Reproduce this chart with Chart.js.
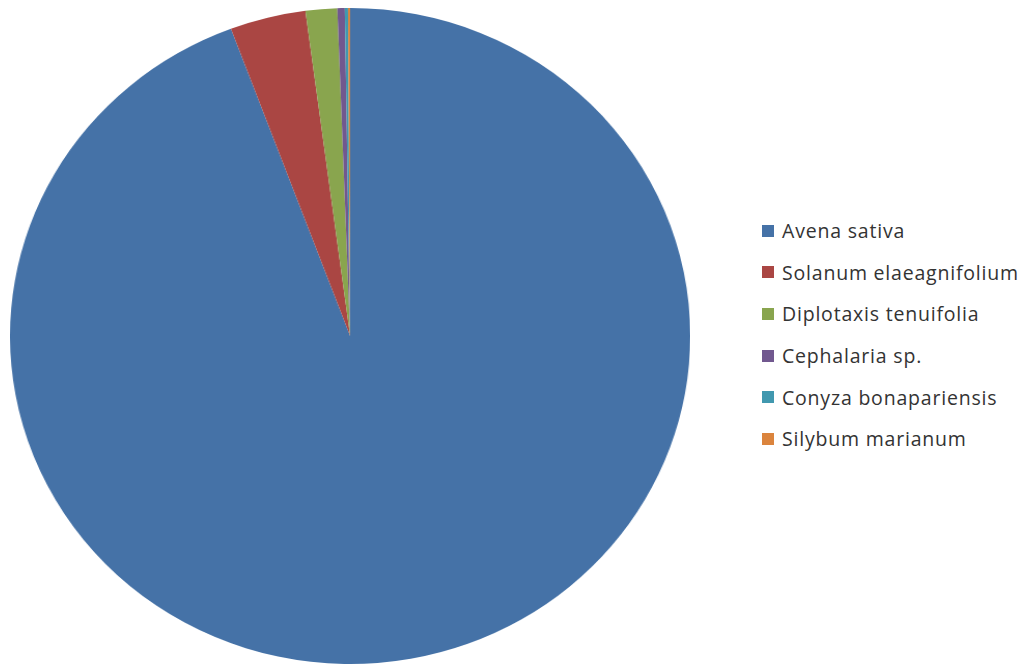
<!DOCTYPE html>
<html>
<head>
<meta charset="utf-8">
<script src="https://cdn.jsdelivr.net/npm/chart.js@4/dist/chart.umd.min.js"></script>
<style>
  html, body { margin: 0; padding: 0; background: #fff; }
  body { width: 1024px; height: 667px; position: relative; overflow: hidden; }
  #pieWrap {
    position: absolute; left: 10px; top: 8px;
    width: 656px; height: 656px;
    transform-origin: 0 0;
    transform: scaleX(1.037);
  }
  #legend {
    position: absolute; left: 762px; top: 210px;
    margin: 0; padding: 0; list-style: none;
    font-family: "Open Sans", sans-serif; font-size: 19.5px; letter-spacing: 0.8px;
    color: #333;
  }
  #legend li { height: 41.6px; display: flex; align-items: center; white-space: nowrap; }
  #legend .box { width: 12px; height: 12px; margin: 0 8px 0 0; flex: none; }
</style>
</head>
<body>
<div id="pieWrap"><canvas id="pie"></canvas></div>
<ul id="legend"></ul>
<script>
const species = [
  'Avena sativa',
  'Solanum elaeagnifolium',
  'Diplotaxis tenuifolia',
  'Cephalaria sp.',
  'Conyza bonapariensis',
  'Silybum marianum',
];
// share of each species, percent
const shares = [94.3, 3.6, 1.5, 0.35, 0.15, 0.1];
const colors = ['#4572A7', '#AA4643', '#89A54E', '#71588F', '#4198AF', '#DB843D'];

function createPieChart(canvaId) {
  const ctx = document.getElementById(canvaId);

  return new Chart(ctx, {
    type: 'pie',
    data: {
      labels: species,
      datasets: [
        {
          data: shares,
          backgroundColor: colors,
          borderWidth: 0,
        },
      ],
    },
    options: {
      animation: false,
      maintainAspectRatio: false,
      layout: { padding: 0 },
      plugins: {
        legend: { display: false },
        tooltip: { enabled: false },
      },
    },
  });
}

function buildLegend(listId) {
  const list = document.getElementById(listId);
  species.forEach((name, i) => {
    const li = document.createElement('li');
    const box = document.createElement('span');
    box.className = 'box';
    box.style.background = colors[i];
    li.appendChild(box);
    li.appendChild(document.createTextNode(name));
    list.appendChild(li);
  });
}

createPieChart('pie');
buildLegend('legend');
</script>
</body>
</html>
